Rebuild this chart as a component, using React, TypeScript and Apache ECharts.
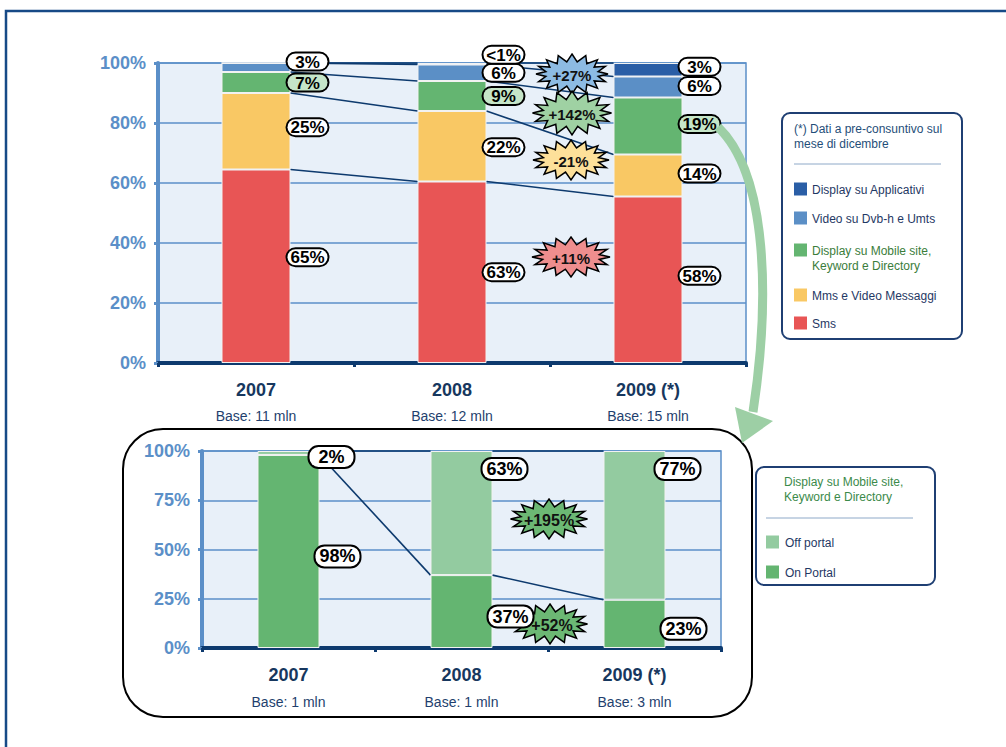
import React, { useEffect, useRef } from "react";
import * as echarts from "echarts";

// ---------- DATA ----------
const categories = ["2007", "2008", "2009 (*)"];
const topBases = ["Base: 11 mln", "Base: 12 mln", "Base: 15 mln"];
const bottomBases = ["Base: 1 mln", "Base: 1 mln", "Base: 3 mln"];

const topSeriesNames = [
  "Sms",
  "Mms e Video Messaggi",
  "Display su Mobile site, Keyword e Directory",
  "Video su Dvb-h e Umts",
  "Display su Applicativi",
];
const sms = [64.5, 60.5, 55.5];
const mms = [25.5, 23.5, 14];
const mobile = [7, 10, 19];
const video = [3, 5.5, 7];
const applicativi = [0, 0.5, 4.5];

const smsLabels = ["65%", "63%", "58%"];
const mmsLabels = ["25%", "22%", "14%"];
const mobileLabels = ["7%", "9%", "19%"];
const videoLabels = ["3%", "6%", "6%"];
const applicativiLabels = ["", "<1%", "3%"];

const bottomSeriesNames = ["On Portal", "Off portal"];
const onPortal = [98, 37, 24.5];
const offPortal = [2, 63, 75.5];
const onPortalLabels = ["98%", "37%", "23%"];
const offPortalLabels = ["2%", "63%", "77%"];

const topChanges = ["+27%", "+142%", "-21%", "+11%"];
const bottomChanges = ["+195%", "+52%"];

// ---------- STYLE ----------
const FONT = "'Liberation Sans', Arial, sans-serif";
const NAVY = "#0d3a6e";
const AXIS_BLUE = "#5b8fc8";
const PLOT_BG = "#e8f0f9";
const topColors = ["#e85555", "#f9c864", "#64b571", "#5b8fc6", "#2a5ea6"];
const bottomColors = ["#64b571", "#93cba0"];
const topLabelBg = ["#ffffff", "#ffffff", "#c5e5c8", "#ffffff", "#ffffff"];
// vertical nudges of the value boxes (px), per series, per category
const topLabelDy = [
  [-9, 0, -4],
  [-4, 1, -2],
  [0, 0, -2],
  [-6, 0, -1],
  [0, -9, -3],
];
const TOP_BW = 69;
const BOT_BW = 62;

const topValues = [sms, mms, mobile, video, applicativi];
const topLabels = [smsLabels, mmsLabels, mobileLabels, videoLabels, applicativiLabels];

function cumulative(stack: number[][]) {
  const out: number[][] = [];
  let acc = stack[0].map(() => 0);
  stack.forEach((s) => {
    acc = acc.map((a, i) => a + s[i]);
    out.push(acc.slice());
  });
  return out;
}

function starPoints(cx: number, cy: number, rx: number, ry: number, n = 16) {
  const pts: number[][] = [];
  for (let i = 0; i < 2 * n; i++) {
    const a = (i * Math.PI) / n - Math.PI / 2;
    const kx = i % 2 === 0 ? 1 : 0.74;
    const ky = i % 2 === 0 ? 1 : 0.62;
    pts.push([cx + rx * kx * Math.cos(a), cy + ry * ky * Math.sin(a)]);
  }
  return pts;
}

function star(cx: number, cy: number, w: number, h: number, fill: string, text: string, fs: number, z = 100, tdx = 0) {
  return [
    {
      type: "polygon",
      z,
      shape: { points: starPoints(cx, cy, w / 2, h / 2) },
      style: { fill, stroke: "#000", lineWidth: 1.5 },
    },
    {
      type: "text",
      z: 101,
      x: cx + tdx,
      y: cy + 1,
      style: { text, align: "center", verticalAlign: "middle", font: `bold ${fs}px ${FONT}`, fill: "#111" },
    },
  ];
}

function seriesLines(tops: number[][], xIdx: number, yIdx: number, bw: number, z: number) {
  const data: number[][] = [];
  tops.forEach((t) => {
    for (let c = 0; c < t.length - 1; c++) data.push([c, t[c], t[c + 1]]);
  });
  return {
    type: "custom",
    xAxisIndex: xIdx,
    yAxisIndex: yIdx,
    z,
    silent: true,
    encode: { x: 0, y: 1 },
    data,
    renderItem: (_p: any, api: any) => {
      const c = api.value(0);
      const p0 = api.coord([c, api.value(1)]);
      const p1 = api.coord([c + 1, api.value(2)]);
      return {
        type: "line",
        shape: { x1: p0[0] + bw / 2, y1: p0[1], x2: p1[0] - bw / 2, y2: p1[1] },
        style: { stroke: NAVY, lineWidth: 1.6 },
      };
    },
  };
}

function legendItems(x: number, items: { name: string; color: string; y: number; textColor: string }[], tx: number) {
  const out: any[] = [];
  items.forEach((it) => {
    out.push({ type: "rect", shape: { x, y: it.y - 6.5, width: 13, height: 13 }, style: { fill: it.color } });
    out.push({
      type: "text",
      x: tx,
      y: it.y - 7,
      style: { text: it.name, font: `12px ${FONT}`, fill: it.textColor, verticalAlign: "top", lineHeight: 15 },
    });
  });
  return out;
}

export default function App() {
  const ref = useRef<HTMLDivElement>(null);
  useEffect(() => {
    if (!ref.current) return;
    const chart = echarts.init(ref.current, null, { renderer: "svg" });

    const topTops = cumulative(topValues);
    const botTops = cumulative([onPortal, offPortal]);

    const topBars = topValues.map((vals, s) => ({
      type: "bar",
      name: topSeriesNames[s],
      stack: "top",
      xAxisIndex: 0,
      yAxisIndex: 0,
      barWidth: TOP_BW,
      z: 3,
      itemStyle: { color: topColors[s], borderColor: "#f2f2f2", borderWidth: 1 },
      data: vals.map((v, c) => ({
        value: v,
        label: {
          show: topLabels[s][c] !== "",
          position: "right",
          offset: [-8, topLabelDy[s][c]],
          formatter: "{t|" + topLabels[s][c] + "}",
          backgroundColor: topLabelBg[s],
          borderColor: "#000",
          borderWidth: 2,
          borderRadius: 8,
          padding: [1, 2, 0, 2],
          rich: { t: { width: 36, align: "center", fontSize: 17, fontWeight: "bold", fontFamily: FONT, color: "#000", lineHeight: 15 } },
        },
      })),
    }));

    const bottomLabelPos = [
      onPortal.map(() => ({ position: "right", offset: [-9, 5] })),
      offPortal.map((_, c) => ({ position: ["100%", c === 0 ? 6 : 18], offset: [-10, 0] })),
    ];
    const bottomLabelText = [onPortalLabels, offPortalLabels];

    const bottomBars = [onPortal, offPortal].map((vals, s) => ({
      type: "bar",
      name: bottomSeriesNames[s],
      stack: "bottom",
      xAxisIndex: 1,
      yAxisIndex: 1,
      barWidth: BOT_BW,
      z: 3,
      itemStyle: { color: bottomColors[s], borderColor: "#f2f2f2", borderWidth: 1 },
      data: vals.map((v, c) => ({
        value: v,
        label: {
          show: true,
          ...bottomLabelPos[s][c],
          verticalAlign: "middle",
          formatter: "{t|" + bottomLabelText[s][c] + "}",
          backgroundColor: "#fff",
          borderColor: "#000",
          borderWidth: 2,
          borderRadius: 9,
          padding: [1, 2, 1, 2],
          rich: { t: { width: 40, align: "center", fontSize: 18, fontWeight: "bold", fontFamily: FONT, color: "#000", lineHeight: 18 } },
        },
      })),
    }));

    const yAxisCommon = {
      type: "value",
      min: 0,
      max: 100,
      axisLine: { show: true, lineStyle: { color: AXIS_BLUE, width: 4 } },
      axisTick: { show: true, length: 4, lineStyle: { color: AXIS_BLUE, width: 3 } },
      splitLine: { show: true, lineStyle: { color: AXIS_BLUE, width: 1.5 } },
      axisLabel: { formatter: "{value}%", color: AXIS_BLUE, fontSize: 18, fontWeight: "bold", fontFamily: FONT, margin: 12 },
    };

    const xAxisCommon = (bases: string[], margin: number, lh: number) => ({
      type: "category",
      data: categories,
      axisLine: { show: true, lineStyle: { color: NAVY, width: 4 } },
      axisTick: { show: true, length: 4, lineStyle: { color: NAVY, width: 3 } },
      axisLabel: {
        margin,
        formatter: (v: string, i: number) => `{a|${v}}\n{b|${bases[i]}}`,
        rich: {
          a: { fontSize: 18, fontWeight: "bold", color: "#17375e", fontFamily: FONT, lineHeight: lh },
          b: { fontSize: 14, color: "#1f3f6e", fontFamily: FONT, lineHeight: lh },
        },
      },
    });

    const graphic: any[] = [
      // outer frame
      { type: "rect", shape: { x: 6, y: 11, width: 1020, height: 760 }, style: { fill: "none", stroke: "#174a86", lineWidth: 2.5 } },
      // rounded frame around bottom chart
      { type: "rect", z: 0, shape: { x: 123, y: 429, width: 629, height: 288, r: 40 }, style: { fill: "none", stroke: "#000", lineWidth: 2 } },
      // curved arrow
      {
        type: "bezierCurve",
        z: 50,
        shape: { x1: 718, y1: 127, cpx1: 768, cpy1: 175, cpx2: 770, cpy2: 300, x2: 753, y2: 412 },
        style: { stroke: "#9dcfa5", lineWidth: 9, fill: "none" },
      },
      { type: "polygon", z: 50, shape: { points: [[735, 407], [773, 421], [742, 443]] }, style: { fill: "#9dcfa5" } },
      // top legend box
      { type: "rect", shape: { x: 782, y: 113, width: 180, height: 226, r: 8 }, style: { fill: "#fff", stroke: "#1f3f73", lineWidth: 2 } },
      {
        type: "text",
        x: 794,
        y: 121,
        style: { text: "(*) Dati a pre-consuntivo sul\nmese di dicembre", font: `12px ${FONT}`, fill: "#1f4e79", lineHeight: 15, verticalAlign: "top" },
      },
      { type: "line", shape: { x1: 794, y1: 164, x2: 941, y2: 164 }, style: { stroke: "#8ea9c8", lineWidth: 1 } },
      ...legendItems(
        794,
        [
          { name: "Display su Applicativi", color: topColors[4], y: 189, textColor: "#1f3864" },
          { name: "Video su Dvb-h e Umts", color: topColors[3], y: 218, textColor: "#1f3864" },
          { name: "Display su Mobile site,\nKeyword e Directory", color: topColors[2], y: 250, textColor: "#3b7d3b" },
          { name: "Mms e Video Messaggi", color: topColors[1], y: 295, textColor: "#1f3864" },
          { name: "Sms", color: topColors[0], y: 323, textColor: "#1f3864" },
        ],
        812
      ),
      // bottom legend box
      { type: "rect", shape: { x: 756, y: 467, width: 179, height: 118, r: 8 }, style: { fill: "#fff", stroke: "#1f3f73", lineWidth: 2 } },
      {
        type: "text",
        x: 784,
        y: 474,
        style: { text: "Display su Mobile site,\nKeyword e Directory", font: `12px ${FONT}`, fill: "#3b8a4a", lineHeight: 15, verticalAlign: "top" },
      },
      { type: "line", shape: { x1: 766, y1: 518, x2: 913, y2: 518 }, style: { stroke: "#8ea9c8", lineWidth: 1 } },
      ...legendItems(
        766,
        [
          { name: "Off portal", color: bottomColors[1], y: 542, textColor: "#1f3864" },
          { name: "On Portal", color: bottomColors[0], y: 572, textColor: "#1f3864" },
        ],
        785
      ),
      // change stars
      ...star(572, 74, 72, 40, "#8dbbe3", topChanges[0], 15),
      ...star(572, 113, 79, 44, "#9fd1a3", topChanges[1], 15),
      ...star(571, 160, 76, 40, "#fde09a", topChanges[2], 15),
      ...star(571, 257, 78, 40, "#ef8e8e", topChanges[3], 15),
      ...star(549, 519, 77, 40, "#6cb874", bottomChanges[0], 16),
      ...star(550, 624, 75, 40, "#6cb874", bottomChanges[1], 16, 1, 2),
    ];

    chart.setOption({
      animation: false,
      backgroundColor: "#fff",
      grid: [
        { left: 158, top: 63, width: 588, height: 300, show: true, backgroundColor: PLOT_BG, borderColor: AXIS_BLUE, borderWidth: 1.5 },
        { left: 202, top: 451, width: 519, height: 197, show: true, backgroundColor: PLOT_BG, borderColor: AXIS_BLUE, borderWidth: 1.5 },
      ],
      xAxis: [
        { ...xAxisCommon(topBases, 14, 26), gridIndex: 0 },
        { ...xAxisCommon(bottomBases, 13, 27), gridIndex: 1 },
      ],
      yAxis: [
        { ...yAxisCommon, gridIndex: 0, interval: 20 },
        { ...yAxisCommon, gridIndex: 1, interval: 25 },
      ],
      series: [
        ...topBars,
        ...bottomBars,
        seriesLines(topTops, 0, 0, TOP_BW, 1),
        seriesLines(botTops, 1, 1, BOT_BW, 1),
      ],
      graphic,
    });
    return () => chart.dispose();
  }, []);
  return <div ref={ref} style={{ position: "absolute", left: 0, top: 0, width: 1006, height: 747 }} />;
}
